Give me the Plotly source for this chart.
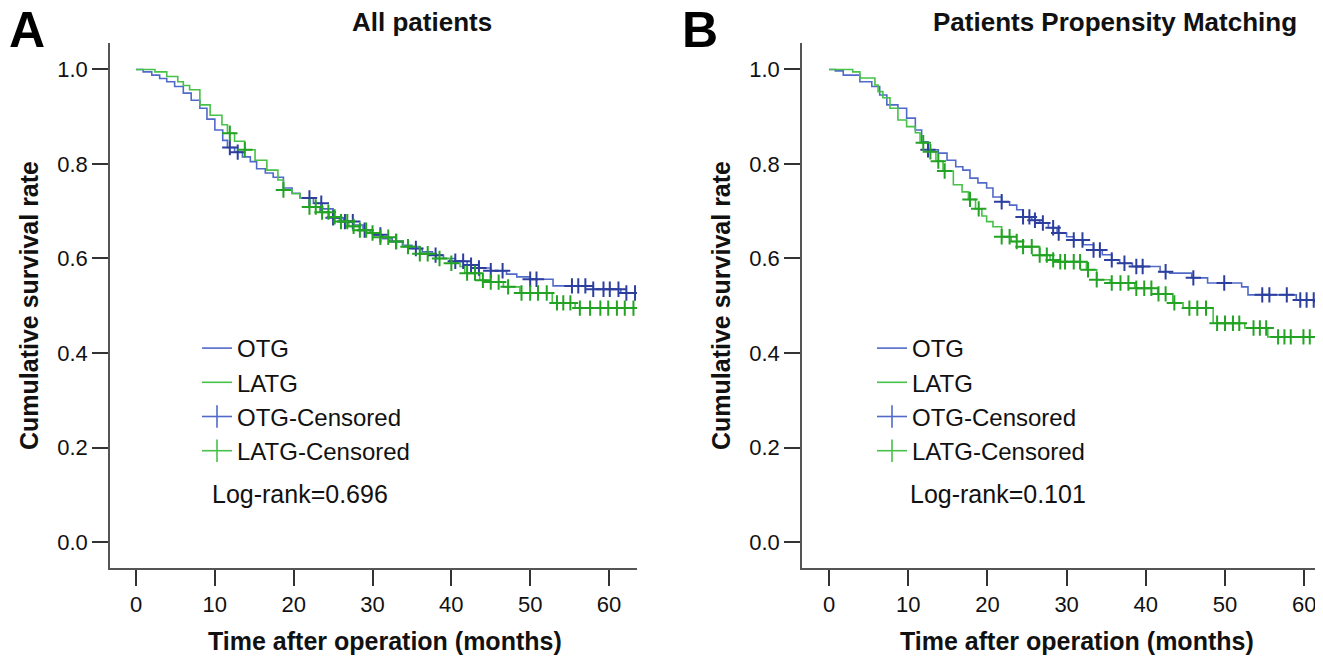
import bisect
import plotly.graph_objects as go

# ---------------- data ----------------
# Panel A: all patients
a_otg_t = [0, 0.9, 2.0, 3.0, 3.9, 4.9, 6.0, 7.0, 8.1, 9.0, 10.0, 11.0, 11.6, 12.5, 13.5, 14.5,
           15.3, 16.4, 17.4, 18.7, 19.8, 20.8, 22.5, 23.6, 25.0, 26.3, 27.6, 28.8, 30.0, 31.3,
           32.5, 33.8, 35.0, 36.3, 37.6, 39.0, 40.5, 42.0, 43.5, 45.0, 47.0, 48.3, 50.0, 52.9,
           58.0, 61.5]
a_otg_s = [1.0, 0.995, 0.988, 0.981, 0.974, 0.964, 0.95, 0.935, 0.918, 0.895, 0.872, 0.85,
           0.835, 0.825, 0.815, 0.805, 0.79, 0.781, 0.772, 0.749, 0.738, 0.728, 0.717, 0.705,
           0.686, 0.678, 0.671, 0.66, 0.65, 0.642, 0.636, 0.628, 0.621, 0.614, 0.607, 0.600,
           0.594, 0.586, 0.58, 0.574, 0.567, 0.561, 0.556, 0.542, 0.535, 0.527]
a_otg_cens = [11.9, 12.9, 22.0, 23.5, 25.0, 26.5, 27.5, 29.0, 31.0, 33.0, 35.5, 38.0, 40.5,
              41.5, 42.5, 43.5, 45.0, 46.5, 50.0, 50.8, 55.3, 56.1, 57.0, 58.0, 59.3, 60.1,
              61.2, 62.2, 63.3]

a_latg_t = [0, 2.4, 3.9, 5.3, 6.0, 6.8, 8.1, 9.4, 10.9, 11.6, 12.5, 13.8, 15.1, 16.6, 18.0,
            18.7, 19.8, 20.8, 22.0, 23.3, 24.5, 25.8, 27.0, 28.3, 29.7, 31.0, 32.2, 33.9, 36.0,
            38.1, 39.8, 41.1, 41.7, 43.6, 44.5, 46.6, 48.7, 52.8, 55.7]
a_latg_s = [1.0, 0.995, 0.985, 0.974, 0.966, 0.957, 0.925, 0.903, 0.883, 0.865, 0.848, 0.83,
            0.808, 0.787, 0.766, 0.745, 0.737, 0.728, 0.709, 0.698, 0.688, 0.678, 0.668, 0.66,
            0.654, 0.645, 0.636, 0.625, 0.61, 0.6, 0.59, 0.583, 0.569, 0.554, 0.55, 0.54,
            0.527, 0.506, 0.495]
a_latg_cens = [11.9, 13.8, 18.7, 22.0, 22.8, 23.6, 24.4, 25.2, 26.0, 26.8, 27.6, 28.4, 29.2,
               30.0, 31.0, 32.0, 33.0, 34.5, 36.0, 37.0, 38.5, 40.0, 42.0, 43.0, 44.0, 45.0,
               46.0, 47.2, 48.9, 50.0, 51.0, 52.1, 53.4, 54.2, 55.1, 56.3, 57.6, 58.9, 59.9,
               61.0, 62.0, 63.1]

# Panel B: propensity matched patients
b_otg_t = [0, 0.8, 1.8, 3.9, 5.4, 6.4, 7.3, 8.7, 9.8, 10.9, 11.7, 12.5, 13.8, 14.9, 16.0,
           16.9, 17.8, 18.8, 19.9, 20.7, 21.8, 22.8, 23.7, 24.5, 25.6, 26.6, 27.7, 28.8, 30.0,
           30.9, 32.1, 33.4, 34.5, 35.7, 36.7, 38.3, 41.8, 43.0, 45.8, 47.8, 52.1, 52.9, 59.0,
           61.7]
b_otg_s = [1.0, 0.997, 0.988, 0.974, 0.964, 0.946, 0.925, 0.918, 0.897, 0.872, 0.847, 0.83,
           0.823, 0.808, 0.794, 0.787, 0.77, 0.76, 0.749, 0.73, 0.72, 0.713, 0.703, 0.688,
           0.681, 0.675, 0.665, 0.654, 0.646, 0.639, 0.629, 0.618, 0.608, 0.597, 0.59, 0.583,
           0.572, 0.569, 0.559, 0.548, 0.54, 0.523, 0.512, 0.509]
b_otg_cens = [12.5, 21.8, 24.5, 25.3, 26.0, 27.0, 28.3, 29.0, 30.9, 32.0, 33.4, 34.2, 35.7,
              37.3, 38.8, 39.6, 42.5, 46.0, 49.9, 54.7, 55.6, 57.8, 59.5, 60.3, 61.2, 62.2]

b_latg_t = [0, 3.0, 3.9, 5.8, 6.2, 6.8, 7.7, 8.7, 9.8, 10.9, 11.5, 12.5, 13.5, 14.4, 15.7,
            16.8, 17.6, 18.5, 19.3, 19.9, 20.7, 21.8, 23.0, 24.5, 26.6, 27.9, 28.5, 32.5, 33.8,
            35.5, 38.6, 41.5, 43.4, 44.7, 48.5, 52.5, 55.4]
b_latg_s = [1.0, 0.995, 0.982, 0.967, 0.953, 0.94, 0.918, 0.893, 0.879, 0.866, 0.845, 0.826,
            0.806, 0.785, 0.756, 0.741, 0.725, 0.705, 0.69, 0.678, 0.667, 0.646, 0.636, 0.625,
            0.607, 0.597, 0.593, 0.576, 0.555, 0.548, 0.537, 0.525, 0.506, 0.495, 0.463, 0.453,
            0.434]
b_latg_cens = [11.9, 12.8, 13.8, 14.6, 17.8, 18.9, 21.8, 22.8, 23.7, 24.5, 25.6, 26.6, 27.5,
               28.3, 29.2, 29.8, 30.9, 31.7, 32.7, 33.8, 35.7, 36.8, 37.8, 38.8, 39.8, 40.7,
               41.6, 42.5, 43.6, 45.5, 46.5, 47.6, 49.0, 50.0, 51.0, 51.8, 53.6, 54.4, 55.2,
               56.7, 57.5, 58.3, 59.9, 60.7, 61.7]

panel_titles = ["All patients", "Patients Propensity Matching"]
panel_letters = ["A", "B"]
logrank = ["Log-rank=0.696", "Log-rank=0.101"]
x_title = "Time after operation (months)"
y_title = "Cumulative survival rate"
x_ticks = [0, 10, 20, 30, 40, 50, 60]
y_ticks = [0.0, 0.2, 0.4, 0.6, 0.8, 1.0]

# ---------------- styling ----------------
OTG_LINE = "#5169c9"
OTG_CENS = "#2c3f9e"
LATG_LINE = "#47c147"
LATG_CENS = "#23a323"
SANS = "Liberation Sans, Arial"
OFF = 8                      # page body margin of the html page
W, H = 1323 - OFF, 658 - OFF


def px(x):
    return (x - OFF) / W


def py(y):
    return 1 - (y - OFF) / H


def step_at(ts, ss, t):
    return ss[bisect.bisect_right(ts, t) - 1]


def curve(ts, ss, cens):
    end = max(max(cens), ts[-1])
    return ts + [end], ss + [ss[-1]]


fig = go.Figure()

panels = [
    (a_otg_t, a_otg_s, a_otg_cens, a_latg_t, a_latg_s, a_latg_cens),
    (b_otg_t, b_otg_s, b_otg_cens, b_latg_t, b_latg_s, b_latg_cens),
]

for i, (ot, os_, oc, lt, ls, lc) in enumerate(panels):
    xa = "x" if i == 0 else "x2"
    ya = "y" if i == 0 else "y2"
    lg = "legend" if i == 0 else "legend2"
    ox, oy = curve(ot, os_, oc)
    lx, ly = curve(lt, ls, lc)
    fig.add_trace(go.Scatter(x=ox, y=oy, mode="lines", line=dict(color=OTG_LINE, width=1.6, shape="hv"),
                             xaxis=xa, yaxis=ya, showlegend=False))
    fig.add_trace(go.Scatter(x=lx, y=ly, mode="lines", line=dict(color=LATG_LINE, width=1.6, shape="hv"),
                             xaxis=xa, yaxis=ya, showlegend=False))
    fig.add_trace(go.Scatter(x=oc, y=[step_at(ot, os_, t) for t in oc], mode="markers",
                             marker=dict(symbol="cross-thin", size=11, line=dict(color=OTG_CENS, width=2)),
                             xaxis=xa, yaxis=ya, showlegend=False))
    fig.add_trace(go.Scatter(x=lc, y=[step_at(lt, ls, t) for t in lc], mode="markers",
                             marker=dict(symbol="cross-thin", size=11, line=dict(color=LATG_CENS, width=2)),
                             xaxis=xa, yaxis=ya, showlegend=False))
    # legend entries
    fig.add_trace(go.Scatter(x=[None], y=[None], mode="lines", name="OTG",
                             line=dict(color=OTG_LINE, width=1.6), xaxis=xa, yaxis=ya, legend=lg))
    fig.add_trace(go.Scatter(x=[None], y=[None], mode="lines", name="LATG",
                             line=dict(color=LATG_LINE, width=1.6), xaxis=xa, yaxis=ya, legend=lg))
    fig.add_trace(go.Scatter(x=[None], y=[None], mode="lines+markers", name="OTG-Censored",
                             line=dict(color=OTG_LINE, width=1.6),
                             marker=dict(symbol="line-ns", size=18, line=dict(color=OTG_LINE, width=1.6)),
                             xaxis=xa, yaxis=ya, legend=lg))
    fig.add_trace(go.Scatter(x=[None], y=[None], mode="lines+markers", name="LATG-Censored",
                             line=dict(color=LATG_LINE, width=1.6),
                             marker=dict(symbol="line-ns", size=18, line=dict(color=LATG_LINE, width=1.6)),
                             xaxis=xa, yaxis=ya, legend=lg))

xdom = [[px(110), px(637)], [px(802), 1.0]]
ydom = [py(568), py(43)]
xrng = [[-3.3, 63.55], [-3.41, 62.37]]

axis_common = dict(showgrid=False, zeroline=False, showline=True, linecolor="#555", linewidth=1.5,
                   ticks="outside", ticklen=16, tickwidth=1.5, tickcolor="#333",
                   tickfont=dict(family=SANS, size=22, color="#111"))

layout = dict(width=W, height=H, margin=dict(l=0, r=0, t=0, b=0),
              paper_bgcolor="white", plot_bgcolor="white", showlegend=True)

for i in range(2):
    sfx = "" if i == 0 else "2"
    layout["xaxis" + sfx] = dict(axis_common, domain=xdom[i], range=xrng[i], tickvals=x_ticks,
                                 anchor="y" + sfx)
    layout["yaxis" + sfx] = dict(axis_common, domain=ydom, range=[-0.055, 1.056], tickvals=y_ticks,
                                 tickformat=".1f", anchor="x" + sfx,
                                 title=dict(text="<b>" + y_title + "</b>",
                                            font=dict(family=SANS, size=25, color="#111"), standoff=12))

leg_common = dict(xanchor="left", yanchor="top", bgcolor="rgba(0,0,0,0)", tracegroupgap=0,
                  font=dict(family=SANS, size=24, color="#111"), itemwidth=30)
layout["legend"] = dict(leg_common, x=px(197), y=py(326))
layout["legend2"] = dict(leg_common, x=px(872), y=py(326))

annotations = []
title_x = [422, 1115]
letter_x = [27, 700]
lr_x = [210, 908]
xt_x = [385, 1077]
for i in range(2):
    annotations.append(dict(text="<b>" + panel_titles[i] + "</b>", x=px(title_x[i]), y=py(22),
                            xref="paper", yref="paper", showarrow=False, xanchor="center", yanchor="middle",
                            font=dict(family=SANS, size=26, color="#111")))
    annotations.append(dict(text="<b>" + panel_letters[i] + "</b>", x=px(letter_x[i]), y=py(30),
                            xref="paper", yref="paper", showarrow=False, xanchor="center", yanchor="middle",
                            font=dict(family=SANS, size=50, color="#000")))
    annotations.append(dict(text=logrank[i], x=px(lr_x[i]), y=py(494), xref="paper", yref="paper",
                            showarrow=False, xanchor="left", yanchor="middle",
                            font=dict(family=SANS, size=25, color="#111")))
    annotations.append(dict(text="<b>" + x_title + "</b>", x=px(xt_x[i]), y=py(641), xref="paper",
                            yref="paper", showarrow=False, xanchor="center", yanchor="middle",
                            font=dict(family=SANS, size=25, color="#111")))
layout["annotations"] = annotations

fig.update_layout(**layout)
fig.write_html("out.html")
